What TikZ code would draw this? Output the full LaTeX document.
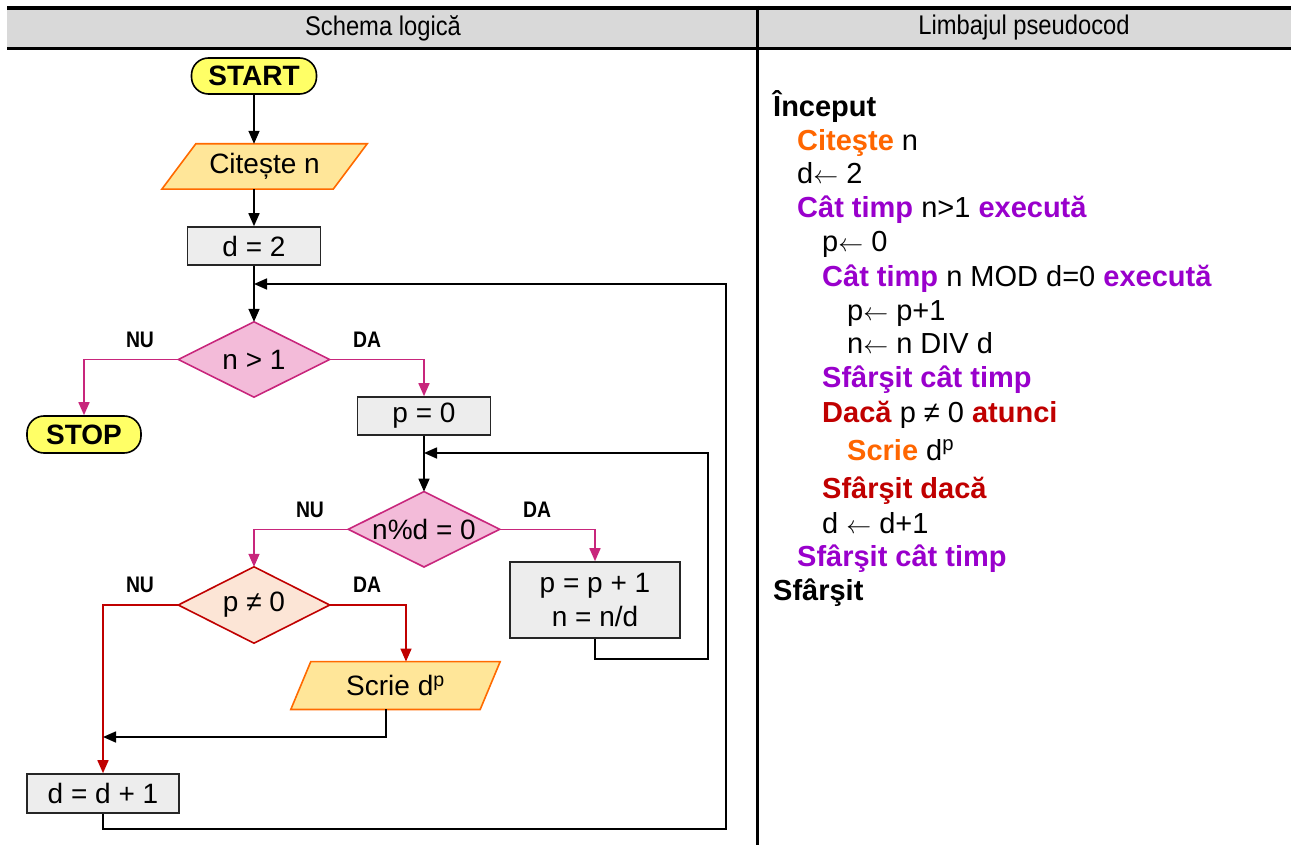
\documentclass[tikz,border=0pt]{standalone}
\usepackage{fontspec}
\setmainfont{Liberation Sans}
\newfontfamily\headfont{Liberation Sans}[FakeStretch=0.88]
\newfontfamily\lblfont{Liberation Sans}[FakeStretch=0.86]
\usetikzlibrary{arrows.meta,calc,backgrounds}

\definecolor{hdrgray}{RGB}{217,217,217}
\definecolor{termfill}{RGB}{255,255,102}
\definecolor{boxfill}{RGB}{237,237,237}
\definecolor{boxline}{RGB}{38,38,38}
\definecolor{iofill}{RGB}{255,230,153}
\definecolor{ioline}{RGB}{255,106,0}
\definecolor{pinkfill}{RGB}{243,187,217}
\definecolor{pinkline}{RGB}{200,38,124}
\definecolor{peachfill}{RGB}{252,229,214}
\definecolor{darkred}{RGB}{192,0,0}
\definecolor{kworange}{RGB}{255,102,0}
\definecolor{kwpurple}{RGB}{153,0,204}

\newcommand\flowsize{\fontsize{28}{34.5}\selectfont}
\newcommand\codesize{\fontsize{29}{34}\selectfont}
\newcommand\asg{\ensuremath{\leftarrow}}

\begin{document}
\begin{tikzpicture}[x=1pt,y=-1pt,
  terminal/.style={rectangle, draw=black, fill=termfill, line width=1.6pt,
    rounded corners=17pt, inner sep=0pt, font=\fontsize{28}{30}\selectfont\bfseries},
  procbox/.style={rectangle, draw=boxline, fill=boxfill, line width=1.6pt,
    inner sep=0pt, font=\flowsize, align=center},
  dectext/.style={rectangle, inner sep=0pt, font=\flowsize},
  decAshape/.style={draw=pinkline, fill=pinkfill, line width=1.6pt},
  decBshape/.style={draw=darkred, fill=peachfill, line width=1.6pt},
  iotext/.style={rectangle, inner sep=0pt, font=\flowsize},
  ioshape/.style={draw=ioline, fill=iofill, line width=1.6pt},
  flowarrow/.style={line width=1.6pt, -{Triangle[length=13pt,width=11pt]}},
  branchlbl/.style={inner sep=0pt, font=\lblfont\fontsize{22.5}{24}\selectfont\bfseries},
  code/.style={anchor=base west, inner sep=0pt, font=\codesize},
  hdrtext/.style={inner sep=0pt, font=\headfont\fontsize{27}{30}\selectfont}
]
\useasboundingbox (0,0) rectangle (1291,845);

% header band and column divider
\fill[hdrgray] (7,8) rectangle (1291,48);
\draw[line width=3.5pt] (7,8) -- (1291,8);
\draw[line width=3.5pt] (7,48.5) -- (1291,48.5);
\draw[line width=3pt] (757,6) -- (757,845);
\node[hdrtext] (h1) at (383,28) {Schema logică};
\node[hdrtext] (h2) at (1024,28) {Limbajul pseudocod};

% flowchart blocks
\node[terminal, minimum width=125pt, minimum height=36pt] (start) at (254,76) {START};
\node[iotext, minimum width=205pt, minimum height=45pt] (cit) at (264.5,166.5) {Citește n};
\node[procbox, minimum width=133pt, minimum height=38pt] (dtwo) at (254,246) {d = 2};
\node[dectext, minimum width=151pt, minimum height=75pt] (dec1) at (254,359.5) {n > 1};
\node[terminal, minimum width=114pt, minimum height=37pt] (stop) at (84,434.5) {STOP};
\node[procbox, minimum width=133pt, minimum height=38pt] (pzero) at (424,416) {p = 0};
\node[dectext, minimum width=151pt, minimum height=75pt] (dec2) at (424,529.3) {n\%d = 0};
\node[procbox, minimum width=170pt, minimum height=76pt] (inc) at (595,600) {p = p + 1\\n = n/d};
\node[dectext, minimum width=151pt, minimum height=76pt] (dec3) at (254,605) {p ≠ 0};
\node[iotext, minimum width=209pt, minimum height=47.5pt] (scr) at (395.5,685.5) {Scrie d\textsuperscript{p}};
\node[procbox, minimum width=152pt, minimum height=39pt] (dinc) at (103,793.5) {d = d + 1};

% diamond and parallelogram outlines behind their texts
\begin{scope}[on background layer]
  \draw[decAshape] (dec1.west) -- (dec1.north) -- (dec1.east) -- (dec1.south) -- cycle;
  \draw[decAshape] (dec2.west) -- (dec2.north) -- (dec2.east) -- (dec2.south) -- cycle;
  \draw[decBshape] (dec3.west) -- (dec3.north) -- (dec3.east) -- (dec3.south) -- cycle;
  \draw[ioshape] (cit.south west) -- ($(cit.north west)+(34,0)$) -- (cit.north east)
    -- ($(cit.south east)+(-34,0)$) -- cycle;
  \draw[ioshape] (scr.south west) -- ($(scr.north west)+(20,0)$) -- (scr.north east)
    -- ($(scr.south east)+(-20,0)$) -- cycle;
\end{scope}

% junction points of the loops
\coordinate (joinA) at (254,284);
\coordinate (outerA) at (726,829);
\coordinate (joinB) at (424,453);
\coordinate (outerB) at (708,659);
\coordinate (joinC) at (103,737);

% sequential flow
\draw[flowarrow] (start.south) -- (start.south |- cit.north);
\draw[flowarrow] (dtwo.north |- cit.south) -- (dtwo.north);
\draw[flowarrow] (dtwo.south) -- (dec1.north);
\draw[flowarrow] (pzero.south) -- (dec2.north);

% outer loop
\draw[flowarrow] (dinc.south) |- (outerA) |- (joinA);
% inner loop
\draw[flowarrow] (inc.south) |- (outerB) |- (joinB);

% branches of n > 1
\draw[flowarrow, pinkline] (dec1.west) -| (stop.north);
\draw[flowarrow, pinkline] (dec1.east) -| (pzero.north);
% branches of n%d = 0
\draw[flowarrow, pinkline] (dec2.west) -| (dec3.north);
\draw[flowarrow, pinkline] (dec2.east) -| (inc.north);
% branches of p != 0
\draw[flowarrow, darkred] (dec3.west) -| (dinc.north);
\draw[flowarrow, darkred] (dec3.east) -| ($(scr.north)+(10.5,0)$);
% after output
\draw[flowarrow] ($(scr.south)+(-9.5,0)$) |- (joinC);

% branch labels
\node[branchlbl] (nu1) at (140,340) {NU};
\node[branchlbl] (da1) at (367,340) {DA};
\node[branchlbl] (nu2) at (310,510) {NU};
\node[branchlbl] (da2) at (537,510) {DA};
\node[branchlbl] (nu3) at (140,585) {NU};
\node[branchlbl] (da3) at (367,585) {DA};

% pseudocode
\node[code] (l1)  at (773,116.7) {\textbf{Început}};
\node[code] (l2)  at (797,151) {\textcolor{kworange}{\textbf{Citeşte}} n};
\node[code] (l3)  at (797,184) {d\asg{} 2};
\node[code] (l4)  at (797,218) {\textcolor{kwpurple}{\textbf{Cât timp}} n>1 \textcolor{kwpurple}{\textbf{execută}}};
\node[code] (l5)  at (822,252) {p\asg{} 0};
\node[code] (l6)  at (822,287) {\textcolor{kwpurple}{\textbf{Cât timp}} n MOD d=0 \textcolor{kwpurple}{\textbf{execută}}};
\node[code] (l7)  at (847,320) {p\asg{} p+1};
\node[code] (l8)  at (847,353) {n\asg{} n DIV d};
\node[code] (l9)  at (822,387) {\textcolor{kwpurple}{\textbf{Sfârşit cât timp}}};
\node[code] (l10) at (822,422) {\textcolor{darkred}{\textbf{Dacă}} p ≠ 0 \textcolor{darkred}{\textbf{atunci}}};
\node[code] (l11) at (847,460) {\textcolor{kworange}{\textbf{Scrie}} d\textsuperscript{p}};
\node[code] (l12) at (822,498) {\textcolor{darkred}{\textbf{Sfârşit dacă}}};
\node[code] (l13) at (822,533) {d \asg{} d+1};
\node[code] (l14) at (797,566) {\textcolor{kwpurple}{\textbf{Sfârşit cât timp}}};
\node[code] (l15) at (773,600) {\textbf{Sfârşit}};
\end{tikzpicture}
\end{document}
